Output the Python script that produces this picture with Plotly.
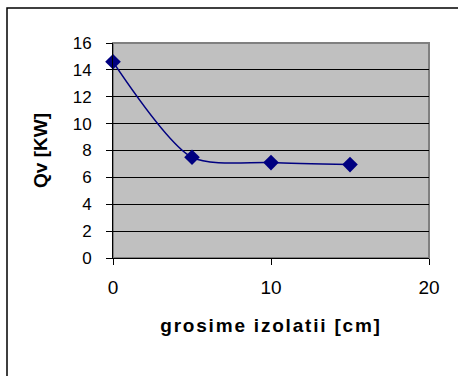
import plotly.graph_objects as go

thickness_cm = [0, 5, 10, 15]
qv_kw = [14.6, 7.5, 7.1, 6.95]
x_ticks = [0, 10, 20]
y_ticks = [0, 2, 4, 6, 8, 10, 12, 14, 16]

fig = go.Figure()
fig.add_trace(go.Scatter(
    x=thickness_cm, y=qv_kw, mode="lines+markers",
    line=dict(color="#000080", width=1.5, shape="spline", smoothing=0.75),
    marker=dict(symbol="diamond", size=12, color="#000080"),
    showlegend=False, cliponaxis=False,
))

fam = "Liberation Sans, Arial, sans-serif"
fig.update_layout(
    width=458, height=376,
    margin=dict(l=113, r=29, t=43, b=118),
    paper_bgcolor="white", plot_bgcolor="#C0C0C0",
    font=dict(family=fam, color="black", size=17),
    xaxis=dict(range=[0, 20], tickvals=x_ticks, showgrid=False, zeroline=False,
               showline=True, linecolor="black", linewidth=1,
               ticks="outside", ticklen=6, tickcolor="black",
               tickfont=dict(size=19), ticklabelstandoff=6,
               title=dict(text="<b>grosime izolatii [cm]</b>", font=dict(size=19), standoff=21)),
    yaxis=dict(range=[0, 16], tickvals=y_ticks, showgrid=True, gridcolor="black", gridwidth=1,
               zeroline=False, showline=True, linecolor="black", linewidth=1,
               ticks="outside", ticklen=6, tickcolor="black",
               tickfont=dict(size=17), ticklabelstandoff=11,
               title=dict(text="<b>Qv [KW]</b>", font=dict(size=19), standoff=20)),
    shapes=[
        dict(type="rect", xref="paper", yref="paper", x0=0, x1=1, y0=0, y1=1,
             line=dict(color="#808080", width=2), layer="below"),
        dict(type="rect", xref="paper", yref="paper",
             x0=-106/316, x1=1 + 80/316, y0=-170/215, y1=1 + 35/215,
             line=dict(color="black", width=1.5)),
    ],
)
post = ("document.querySelectorAll('.xtitle').forEach(function(e){"
        "e.setAttribute('letter-spacing','1.8px');});")
fig.write_html("out.html", post_script=post)
